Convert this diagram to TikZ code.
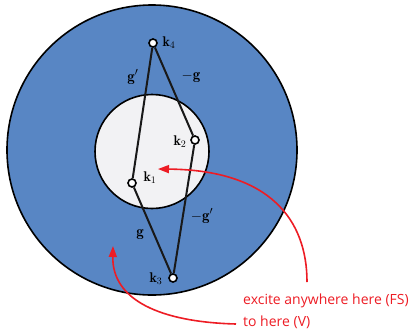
\documentclass[tikz,border=0pt]{standalone}
\usepackage{fontspec}
\newfontfamily\notefont{Open Sans}
\usetikzlibrary{arrows.meta}
\definecolor{diskblue}{RGB}{88,134,196}
\definecolor{innergray}{RGB}{242,242,244}
\definecolor{notered}{RGB}{237,28,36}
\begin{document}
\begin{tikzpicture}[x=1pt,y=-1pt,
  kpt/.style={circle,draw=black,fill=white,line width=1.6pt,inner sep=0pt,minimum size=8pt},
  klab/.style={font=\fontsize{14}{16}\selectfont,inner sep=0pt},
  glab/.style={font=\fontsize{15}{17}\selectfont,inner sep=0pt},
  link/.style={line width=2pt,black!90},
  redarrow/.style={notered,line width=1.6pt,-{Triangle[length=11pt,width=8pt]}},
  note/.style={notered,font=\notefont\fontsize{14}{16}\selectfont,anchor=west,inner sep=0pt}]
\useasboundingbox (0,0) rectangle (419,330);
\fill[diskblue,draw=black,line width=1.6pt] (152,150) circle (145);
\fill[innergray,draw=black,line width=1.6pt] (152,151.5) circle (57);
\node[kpt] (k4) at (153,43) {};
\node[kpt] (k2) at (195,140) {};
\node[kpt] (k1) at (132,183) {};
\node[kpt] (k3) at (173,278) {};
\draw[link] (k4) -- (k1);
\draw[link] (k4) -- (k2);
\draw[link] (k1) -- (k3);
\draw[link] (k2) -- (k3);
\node[klab] (l4) at (169,43) {$\mathbf{k}_4$};
\node[klab] (l2) at (180,142) {$\mathbf{k}_2$};
\node[klab] (l1) at (150,178) {$\mathbf{k}_1$};
\node[klab] (l3) at (156,279) {$\mathbf{k}_3$};
\node[glab] (ga) at (133,77) {$\mathbf{g}'$};
\node[glab] (gb) at (191,77) {$-\mathbf{g}$};
\node[glab] (gc) at (202,216) {$-\mathbf{g}'$};
\node[glab] (gd) at (140,235) {$\mathbf{g}$};
\node[note] (n1) at (243,301) {excite anywhere here (FS)};
\node[note] (n2) at (243,322) {to here (V)};
\coordinate (s1) at (307,282);
\coordinate (t1) at (158,169);
\coordinate (s2) at (236,324);
\coordinate (t2) at (113,246);
\draw[redarrow] (s1) .. controls (307,220) and (270,170) .. (t1);
\draw[redarrow] (s2) .. controls (160,322) and (112,300) .. (t2);
\end{tikzpicture}
\end{document}
